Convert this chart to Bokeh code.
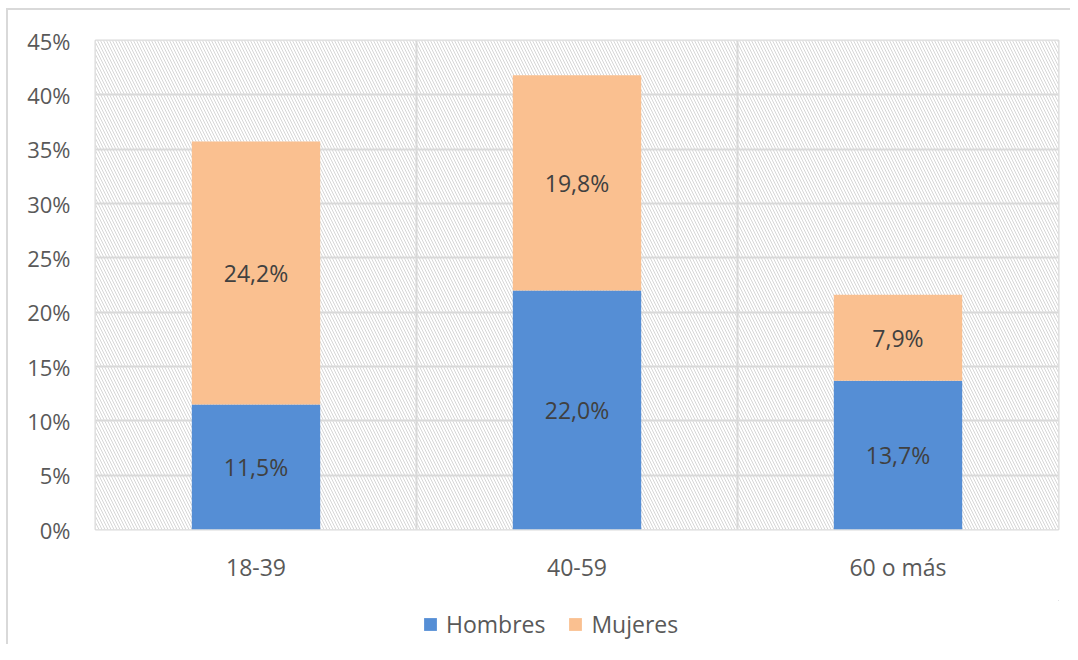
from bokeh.plotting import figure
from bokeh.layouts import column
from bokeh.models import (ColumnDataSource, FixedTicker, NumeralTickFormatter, Legend, LegendItem,
                          LabelSet, BoxAnnotation, Range1d)
from bokeh.core.properties import value
from bokeh.embed import file_html
from bokeh.resources import INLINE

categories = ["18-39", "40-59", "60 o más"]
hombres = [11.5, 22.0, 13.7]
mujeres = [24.2, 19.8, 7.9]
y_ticks = [0, 5, 10, 15, 20, 25, 30, 35, 40, 45]
series_names = ["Hombres", "Mujeres"]

FONT = "Open Sans"
BLUE = "#558ED5"
ORANGE = "#FAC090"
GRID = "#d9d9d9"
FS = "23px"

x = [i + 0.5 for i in range(len(categories))]
h = [v / 100 for v in hombres]
m = [v / 100 for v in mujeres]
top_h = h
top_m = [a + b for a, b in zip(h, m)]

src = ColumnDataSource(dict(
    x=x, h=h, top_h=top_h, top_m=top_m,
    mid_h=[a / 2 for a in h],
    mid_m=[a + b / 2 for a, b in zip(h, m)],
    lab_h=[f"{v:.1f}".replace(".", ",") + "%" for v in hombres],
    lab_m=[f"{v:.1f}".replace(".", ",") + "%" for v in mujeres],
))

p = figure(width=1062, height=590, output_backend="svg", toolbar_location=None,
           x_range=Range1d(0, len(categories)), y_range=Range1d(0, 0.45),
           min_border_left=87, min_border_top=30, min_border_right=12, min_border_bottom=71)

p.add_layout(BoxAnnotation(fill_color="white", fill_alpha=1.0, line_color=None,
                           hatch_pattern="left_diagonal_line", hatch_color="#d6d6d6",
                           hatch_weight=1, hatch_scale=6, level="image"))

p.vbar(x="x", width=0.4, bottom=0, top="top_h", source=src, fill_color=BLUE, line_color=None)
p.vbar(x="x", width=0.4, bottom="top_h", top="top_m", source=src, fill_color=ORANGE, line_color=None)

for col, ycol in (("lab_h", "mid_h"), ("lab_m", "mid_m")):
    p.add_layout(LabelSet(x="x", y=ycol, text=col, source=src, text_align="center",
                          text_baseline="middle", text_font=value(FONT), text_font_size=FS,
                          text_color="#404040"))

p.outline_line_color = GRID
p.outline_line_width = 2
p.background_fill_color = None

p.yaxis.ticker = FixedTicker(ticks=[t / 100 for t in y_ticks])
p.yaxis.formatter = NumeralTickFormatter(format="0%")
p.ygrid.ticker = FixedTicker(ticks=[t / 100 for t in y_ticks])
p.ygrid.grid_line_color = GRID
p.ygrid.grid_line_width = 2

p.xaxis.ticker = FixedTicker(ticks=x)
p.xaxis.major_label_overrides = {xx: c for xx, c in zip(x, categories)}
p.xgrid.ticker = FixedTicker(ticks=list(range(len(categories) + 1)))
p.xgrid.grid_line_color = GRID
p.xgrid.grid_line_width = 2

for ax in (p.xaxis, p.yaxis):
    ax.axis_line_color = None
    ax.major_tick_line_color = None
    ax.minor_tick_line_color = None
    ax.major_label_text_font = FONT
    ax.major_label_text_font_size = FS
    ax.major_label_text_color = "#595959"
p.yaxis.major_label_text_font_size = "22px"
p.yaxis.major_label_standoff = 19
p.xaxis.major_label_standoff = 15

# legend strip underneath (its renderers sit outside its visible ranges)
lg = figure(width=1062, height=44, output_backend="svg", toolbar_location=None,
            x_range=Range1d(-10, -9), y_range=Range1d(-10, -9),
            min_border_left=0, min_border_right=0, min_border_top=0, min_border_bottom=0,
            x_axis_type=None, y_axis_type=None)
lg.outline_line_color = None
lg.xgrid.visible = False
lg.ygrid.visible = False
r1 = lg.vbar(x="x", top="top_h", width=0.4, source=src, fill_color=BLUE, line_color=None)
r2 = lg.vbar(x="x", bottom="top_h", top="top_m", width=0.4, source=src, fill_color=ORANGE, line_color=None)

legend = Legend(items=[LegendItem(label=series_names[0], renderers=[r1]),
                       LegendItem(label=series_names[1], renderers=[r2])],
                orientation="horizontal", location=(327, 4),
                label_text_font=FONT, label_text_font_size=FS, label_text_color="#595959",
                glyph_width=16, glyph_height=16, spacing=22, label_standoff=8,
                border_line_color=None, background_fill_alpha=0, padding=4, margin=0)
lg.add_layout(legend, "center")

layout = column(p, lg, spacing=0)
layout.styles = {"margin-left": "6px", "margin-top": "8px",
                 "border-top": "2px solid #d9d9d9", "border-left": "2px solid #d9d9d9"}

open("out.html", "w").write(file_html(layout, INLINE))
